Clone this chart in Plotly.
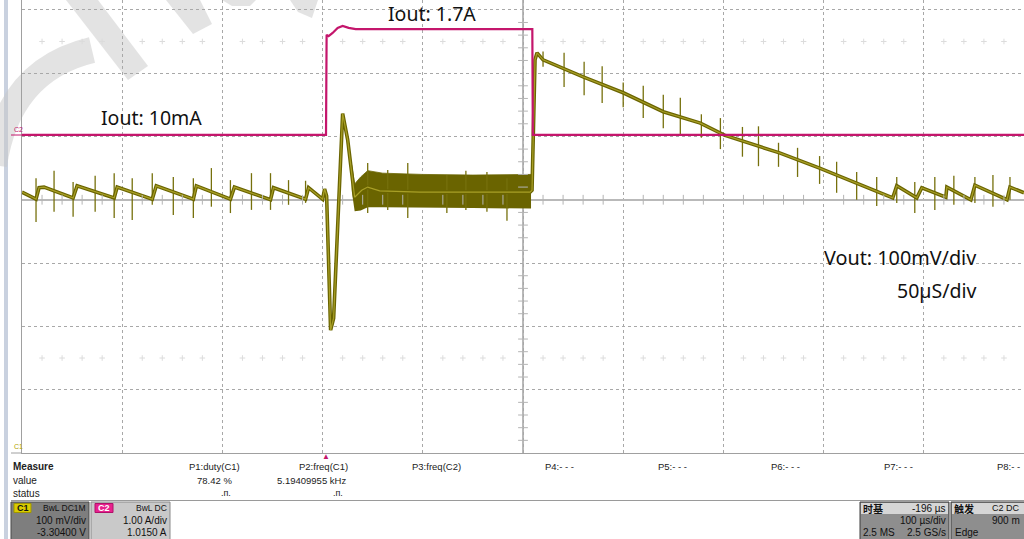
import plotly.graph_objects as go

W, H = 1024, 539
ML, MR, MT, MB = 22, 0, 0, 86

# ---------------- data (time in µs, 100 µs/div; Vout deviation in mV, 100 mV/div; Iout in A, 1 A/div)
vout_t = [0, 14, 17, 22, 51, 55, 92, 95, 130, 134, 171, 174, 208, 212, 248, 251, 283, 286, 300, 302,
          304, 308, 311, 320, 325, 332, 339, 345, 357, 397, 447, 507, 509, 512, 514, 520, 560, 600,
          640, 677, 701, 756, 796, 833, 869, 873, 893, 898, 922, 923, 947, 951, 983, 986, 1000]
vout_mv = [12, 1, 19, 20, 3, 22, 3, 20, 1, 22, 1, 22, 1, 20, 0, 19, 1, 19, 1, 17,
           6, -206, -187, 136, 95, 4, 15, 20, 14, 12, 12, 12, 15, 221, 232, 221, 194, 169,
           139, 121, 102, 74, 50, 26, 3, 22, 3, 19, 4, 20, 0, 23, 0, 20, 11]

# envelope of the switching ripple while loaded
band_t = [329, 332, 338, 345, 360, 400, 450, 508]
band_hi = [55, 25, 36, 46, 42, 40, 39, 40]
band_lo = [15, -18, -17, -12, -12, -12, -13, -14]

# switching spikes (time, top, bottom)
spike_t = [14, 32, 51, 73, 92, 110, 130, 151, 171, 189, 208, 229, 248, 266, 283,
           345, 365, 385, 424, 443, 464, 484,
           520, 541, 561, 579, 600, 620, 640, 657, 678, 697, 719, 735, 755, 774, 796, 813,
           833, 853, 873, 891, 911, 930, 951, 969, 986]
spike_hi = [34, 46, 28, 38, 42, 34, 42, 36, 34, 50, 31, 42, 42, 31, 30,
            58, 47, 58, 39, 46, 44, 34,
            234, 232, 218, 211, 185, 180, 166, 161, 135, 129, 115, 116, 90, 82, 69, 60,
            44, 36, 36, 28, 36, 38, 36, 39, 36]
spike_lo = [-35, -19, -27, -19, -29, -32, -8, -24, -29, -11, -21, -16, -16, -8, -5,
            -21, -16, -29, -21, -16, -19, -33,
            210, 178, 165, 153, 146, 129, 113, 104, 98, 80, 68, 53, 52, 36, 25, 11,
            0, -10, -5, -21, -16, -8, -5, -11, 0]

iout_t = [0, 303.4, 304, 306, 310, 315, 320, 326, 333, 509.3, 509.8, 1000]
iout_a = [0.01, 0.01, 1.59, 1.57, 1.62, 1.70, 1.73, 1.70, 1.68, 1.68, 0.01, 0.01]

# ---------------- helpers for decoration placement (pixel -> paper)
PW = W - ML - MR
PH = H - MT - MB


def fx(px):
    return (px - ML) / PW


def fy(py):
    return (H - MB - py) / PH


OLIVE_D = "#6a6400"
OLIVE_L = "#a89f26"
MAG = "#c4166c"
GRID = "#a8a8a8"

fig = go.Figure()

# current (secondary axis)
fig.add_trace(go.Scatter(x=iout_t, y=iout_a, mode="lines", yaxis="y2",
                         line=dict(color=MAG, width=2.2), hoverinfo="skip"))

# ripple envelope
fig.add_trace(go.Scatter(x=band_t, y=band_lo, mode="lines", line=dict(width=0, color=OLIVE_D),
                         hoverinfo="skip"))
fig.add_trace(go.Scatter(x=band_t, y=band_hi, mode="lines", line=dict(width=0.8, color=OLIVE_D),
                         fill="tonexty", fillcolor=OLIVE_D, hoverinfo="skip"))

# spikes
sx, sy = [], []
for t, hi, lo in zip(spike_t, spike_hi, spike_lo):
    sx += [t, t, None]
    sy += [hi, lo, None]
fig.add_trace(go.Scatter(x=sx, y=sy, mode="lines", line=dict(color="#76700c", width=1.3),
                         hoverinfo="skip"))

# Vout trace (dark body + lighter core)
fig.add_trace(go.Scatter(x=vout_t, y=vout_mv, mode="lines", line=dict(color=OLIVE_D, width=3.6),
                         hoverinfo="skip"))
fig.add_trace(go.Scatter(x=vout_t, y=vout_mv, mode="lines", line=dict(color=OLIVE_L, width=1.2),
                         hoverinfo="skip"))

# minor ticks on centre axes and crosses rows
mt = [t for t in range(0, 1001, 20) if t % 100]
fig.add_trace(go.Scatter(x=mt, y=[0] * len(mt), mode="markers",
                         marker=dict(symbol="line-ns", size=7, line=dict(color="#b4b4b4", width=1)),
                         hoverinfo="skip"))
mv = [v for v in range(-400, 316, 20) if v % 100]
fig.add_trace(go.Scatter(x=[500] * len(mv), y=mv, mode="markers",
                         marker=dict(symbol="line-ew", size=7, line=dict(color="#b4b4b4", width=1)),
                         hoverinfo="skip"))
cx = mt + mt
cy = [250] * len(mt) + [-250] * len(mt)
fig.add_trace(go.Scatter(x=cx, y=cy, mode="markers",
                         marker=dict(symbol="cross-thin", size=4, line=dict(color="#dcdcdc", width=1)),
                         hoverinfo="skip"))

shapes = []
# centre vertical axis
shapes.append(dict(type="line", xref="x", yref="paper", x0=500, x1=500, y0=0, y1=1,
                   line=dict(color="#b9b9b9", width=2), layer="below"))
# left scope bar
shapes.append(dict(type="rect", xref="paper", yref="paper", x0=fx(4), x1=fx(8), y0=fy(0), y1=fy(539),
                   fillcolor="#c9d1df", line=dict(width=0), layer="below"))
# watermark
WM = "rgba(200,200,200,0.5)"


def poly(pts):
    return "M " + " L ".join(f"{fx(a):.5f},{fy(b):.5f}" for a, b in pts) + " Z"


shapes.append(dict(type="path", xref="paper", yref="paper",
                   path=f"M {fx(92):.5f},{fy(50):.5f} Q {fx(8):.5f},{fy(70):.5f} {fx(-6):.5f},{fy(165):.5f}",
                   line=dict(color=WM, width=26), layer="below"))
shapes.append(dict(type="path", xref="paper", yref="paper",
                   path=poly([(66, 0), (98, 0), (148, 66), (128, 80)]), fillcolor=WM,
                   line=dict(width=0), layer="below"))
shapes.append(dict(type="path", xref="paper", yref="paper",
                   path=poly([(166, 0), (200, 0), (212, 24), (193, 34)]), fillcolor=WM,
                   line=dict(width=0), layer="below"))
shapes.append(dict(type="path", xref="paper", yref="paper",
                   path=poly([(222, 0), (256, 0), (250, 6), (232, 6)]), fillcolor=WM,
                   line=dict(width=0), layer="below"))
shapes.append(dict(type="path", xref="paper", yref="paper",
                   path=poly([(290, 0), (318, 0), (312, 18), (298, 12)]), fillcolor=WM,
                   line=dict(width=0), layer="below"))

# bottom info panel lines
shapes.append(dict(type="line", xref="paper", yref="paper", x0=fx(11), x1=fx(22), y0=fy(453), y1=fy(453),
                   line=dict(color="#a0a0a0", width=1)))
shapes.append(dict(type="line", xref="paper", yref="paper", x0=fx(11), x1=fx(1024), y0=fy(500.5), y1=fy(500.5),
                   line=dict(color="#9a9a9a", width=1)))
# C2 marker underline
shapes.append(dict(type="line", xref="paper", yref="paper", x0=fx(11), x1=fx(22), y0=fy(135), y1=fy(135),
                   line=dict(color=MAG, width=1)))


def rect(x0, y0, x1, y1, fill, line="#555555", lw=1):
    shapes.append(dict(type="rect", xref="paper", yref="paper", x0=fx(x0), x1=fx(x1), y0=fy(y1), y1=fy(y0),
                       fillcolor=fill, line=dict(color=line, width=lw)))


rect(11, 502, 89, 541, "#7e7e7e", "#4a4a4a")
rect(14, 503.5, 31, 512.5, "#d9cc00", "#a09600")
rect(91, 502, 170, 541, "#c9c9c9", "#8a8a8a")
rect(95, 503.5, 113, 512.5, "#e8228d", "#b0106a")
rect(860, 502, 949, 541, "#8e8e8e", "#3c3c3c")
rect(861, 503, 948, 514, "#d6d6d6", "#d6d6d6", 0)
rect(951, 502, 1030, 541, "#8e8e8e", "#3c3c3c")
rect(952, 503, 1029, 514, "#d6d6d6", "#d6d6d6", 0)

ann = []


def txt(x, y, s, size=10, color="#222222", anchor="left", bold=False, family="Liberation Sans"):
    if bold:
        s = f"<b>{s}</b>"
    ann.append(dict(x=fx(x), y=fy(y), xref="paper", yref="paper", text=s, showarrow=False,
                    xanchor=anchor, yanchor="middle", font=dict(size=size, color=color, family=family)))


LBL = "Noto Sans"
txt(99, 117, "Iout: 10mA", 19.5, "#111111", family=LBL)
txt(386, 13, "Iout: 1.7A", 19.5, "#111111", family=LBL)
txt(822, 257, "Vout: 100mV/div", 19.8, "#111111", family=LBL)
txt(978, 290, "50µS/div", 19.5, "#111111", anchor="right", family=LBL)

txt(12, 129, "C2", 7, MAG)
txt(12, 446, "C1", 7, "#b0a400")
txt(325.5, 456.5, "▲", 8, MAG, anchor="center")

txt(11, 467, "Measure", 10, "#222222", bold=True)
txt(11, 480, "value", 10)
txt(11, 493, "status", 10)
heads = ["P1:duty(C1)", "P2:freq(C1)", "P3:freq(C2)", "P4:- - -", "P5:- - -", "P6:- - -", "P7:- - -", "P8:- -"]
hx = [187, 297, 410, 543, 656, 769, 882, 995]
for h, x in zip(heads, hx):
    txt(x, 467, h, 9.5)
txt(234, 480, "78.42 %", 9.5, anchor="right")
txt(348, 480, "5.19409955 kHz", 9.5, anchor="right")
txt(233, 493, ".п.", 9, anchor="right")
txt(345, 493, ".п.", 9, anchor="right")

txt(22.5, 508, "C1", 9, "#111111", anchor="center", bold=True)
txt(88, 508, "BwL DC1M", 8.5, "#111111", anchor="right")
txt(88, 520, "100 mV/div", 10, "#111111", anchor="right")
txt(88, 532, "-3.30400 V", 10, "#111111", anchor="right")
txt(104, 508, "C2", 9, "#ffffff", anchor="center", bold=True)
txt(169, 508, "BwL DC", 8.5, "#111111", anchor="right")
txt(169, 520, "1.00 A/div", 10, "#111111", anchor="right")
txt(169, 532, "1.0150 A", 10, "#111111", anchor="right")

CJK = "Noto Sans CJK SC"
txt(861, 508, "时基", 10, "#111111", bold=True, family=CJK)
txt(948, 508, "-196 µs", 10, "#111111", anchor="right")
txt(948, 520, "100 µs/div", 10, "#111111", anchor="right")
txt(861, 532, "2.5 MS", 10, "#111111")
txt(948, 532, "2.5 GS/s", 10, "#111111", anchor="right")
txt(952, 508, "触发", 10, "#111111", bold=True, family=CJK)
txt(1022, 508, "C2 DC", 9, "#111111", anchor="right")
txt(1022, 520, "900 m", 10, "#111111", anchor="right")
txt(953, 532, "Edge", 10, "#111111")

fig.update_layout(
    width=W, height=H,
    margin=dict(l=ML, r=MR, t=MT, b=MB, pad=0),
    paper_bgcolor="white", plot_bgcolor="white",
    showlegend=False,
    xaxis=dict(range=[0, 1000], dtick=100, tick0=0, showgrid=True, gridcolor=GRID, griddash="dot",
               gridwidth=1, zeroline=False, showticklabels=False, ticks="",
               showline=True, linecolor="#a0a0a0", linewidth=1, fixedrange=True),
    yaxis=dict(range=[-400, 315.5], dtick=100, tick0=0, showgrid=True, gridcolor=GRID, griddash="dot",
               gridwidth=1, zeroline=True, zerolinecolor="#b9b9b9", zerolinewidth=2,
               showticklabels=False, ticks="", showline=True, linecolor="#a0a0a0", linewidth=1,
               fixedrange=True),
    yaxis2=dict(range=[-5.015, 2.140], overlaying="y", showgrid=False, zeroline=False,
                showticklabels=False, ticks="", showline=False, fixedrange=True),
    shapes=shapes,
    annotations=ann,
)

fig.write_html("out.html", config={"displayModeBar": False},
               post_script="document.body.style.margin='0px';document.body.style.overflow='hidden';")
